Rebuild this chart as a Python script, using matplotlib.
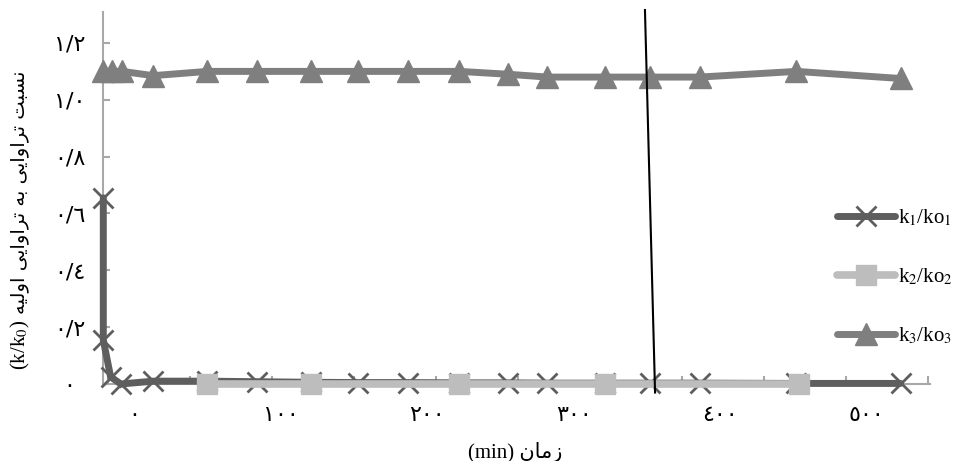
import numpy as np
import matplotlib
matplotlib.use("Agg")
import matplotlib.pyplot as plt

plt.rcParams['font.family'] = ['Liberation Serif', 'DejaVu Sans']
plt.rcParams['mathtext.fontset'] = 'stix'

# ---------------- data ----------------
time_common = [-21, -15, -8, 13, 50, 84, 121, 153, 187, 222, 255, 282, 321, 352, 386, 452, 523]

k1_time = [-21, -21, -16, -9, 13, 50, 84, 121, 153, 187, 222, 255, 282, 321, 352, 386, 452, 523]
k1_vals = [0.655, 0.155, 0.025, 0.0, 0.01, 0.01, 0.008, 0.006, 0.005, 0.005, 0.004,
           0.004, 0.003, 0.003, 0.003, 0.003, 0.002, 0.002]

k2_time = [50, 121, 222, 321, 454]
k2_vals = [0.0, 0.0, 0.0, 0.0, 0.0]

k3_time = time_common
k3_vals = [1.10, 1.10, 1.10, 1.085, 1.10, 1.10, 1.10, 1.10, 1.10, 1.10, 1.09,
           1.08, 1.08, 1.08, 1.08, 1.10, 1.075]

# thin black reference line drawn over the chart
ref_line_time = [348.6, 355.5]
ref_line_vals = [1.316, -0.03]

series_labels = [r"k$_1$/ko$_1$", r"k$_2$/ko$_2$", r"k$_3$/ko$_3$"]

y_ticks = [0.0, 0.2, 0.4, 0.6, 0.8, 1.0, 1.2]
y_tick_labels = ["٠", "٠/٢", "٠/٤", "٠/٦", "٠/٨", "١/٠", "١/٢"]
x_ticks = [0, 100, 200, 300, 400, 500]
x_tick_labels = ["٠", "١٠٠", "٢٠٠", "٣٠٠", "٤٠٠", "٥٠٠"]

# Persian text, shaped (presentation forms) in visual order
w_nesbat = "\uFE96\uFE92\uFEB4\uFEE7"
w_taravayi = "\uFBFD\uFBFE\uFE8D\uFEED\uFE8D\uFEAE\uFE97"
w_be = "\uFEEA\uFE91"
w_avalie = "\uFEEA\uFBFF\uFEDF\uFEED\uFE8D"
w_zaman = "\uFEE5\uFE8E\uFEE3\uFEAF"
y_label_fa = " ".join([w_avalie, w_taravayi, w_be, w_taravayi, w_nesbat])
y_label_latin = r"(k/k$_0$)"
x_label = "(min) " + w_zaman

# ---------------- styles ----------------
c1, c2, c3 = "#5e5e5e", "#bdbdbd", "#7f7f7f"
axis_col = "#a8a8a8"

fig = plt.figure(figsize=(9.58, 4.61), dpi=100)
ax = fig.add_axes([103/958, 1-384/461, (930-103)/958, (384-12)/461])

ax.plot(k1_time, k1_vals, color=c1, lw=5, marker="x", ms=15, mew=2, mec=c1,
        solid_capstyle="round", clip_on=False, zorder=3, label=series_labels[0])
ax.plot(k2_time, k2_vals, color=c2, lw=5.5, marker="s", ms=15, mec=c2, mfc=c2,
        solid_capstyle="round", clip_on=False, zorder=4, label=series_labels[1])
ax.plot(k3_time, k3_vals, color=c3, lw=5, marker="^", ms=16, mec=c3, mfc=c3,
        solid_capstyle="round", clip_on=False, zorder=5, label=series_labels[2])
ax.plot(ref_line_time, ref_line_vals, color="black", lw=1.5, clip_on=False, zorder=6)

ax.set_xlim(-21.2, 543.1)
ax.set_ylim(0, 1.309)

for s in ["top", "right"]:
    ax.spines[s].set_visible(False)
for s in ["left", "bottom"]:
    ax.spines[s].set_color(axis_col)
    ax.spines[s].set_linewidth(1.5)

ax.set_yticks(y_ticks)
ax.set_yticklabels(y_tick_labels, family=["DejaVu Sans"], fontsize=16, ha="center")
ax.tick_params(axis="y", direction="in", length=5, width=1.5, color=axis_col, pad=24)

ax.set_xticks(x_ticks)
ax.set_xticklabels(x_tick_labels, family=["DejaVu Sans"], fontsize=16)
ax.tick_params(axis="x", which="major", length=0, pad=15)
ax.set_xticks(np.arange(-18, 545, 56), minor=True)
ax.tick_params(axis="x", which="minor", direction="in", length=6, width=1.5, color=axis_col)

fig.text(515/958, 1-452/461, x_label, ha="center", va="center", fontsize=15,
         family=["Liberation Serif", "DejaVu Sans"])

t_lat = fig.text(20/958, 1-370/461, y_label_latin, rotation=90, ha="center", va="bottom",
                 fontsize=15)
ax.annotate(y_label_fa, xy=(0.5, 1.0), xycoords=t_lat, xytext=(0, 4),
            textcoords="offset points", rotation=90, ha="center", va="bottom",
            fontsize=14, family=["DejaVu Sans"])

leg = fig.legend(loc="center left", bbox_to_anchor=(837/958, 1-277/461), frameon=False,
                 fontsize=15, handlelength=2.8, handletextpad=0.15, labelspacing=1.85,
                 borderpad=0, borderaxespad=0)

fig.savefig("out.png", dpi=100)
